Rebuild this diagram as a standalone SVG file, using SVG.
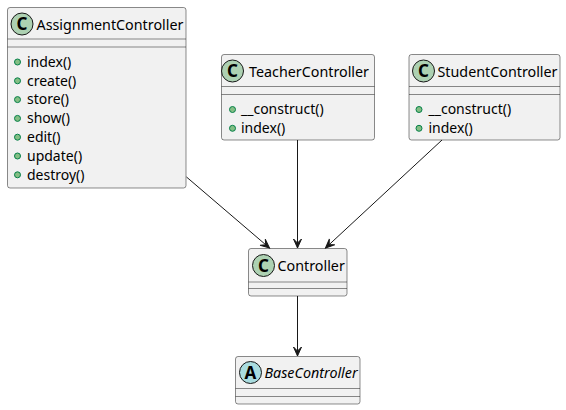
<svg xmlns="http://www.w3.org/2000/svg" width="566" height="410" viewBox="0 0 566 410">
<defs>
<style>
.box{fill:#F1F1F1;stroke:#181818;stroke-width:0.5}
.sep{stroke:#181818;stroke-width:0.5}
.t{font-family:"Noto Sans","DejaVu Sans",sans-serif;font-size:14px;fill:#000}
.tt{font-family:"Noto Sans","DejaVu Sans",sans-serif;font-size:14.3px;fill:#000}
.ti{font-family:"Noto Sans","DejaVu Sans",sans-serif;font-size:14.3px;font-style:italic;fill:#000}
.sc{fill:#ADD1B2;stroke:#181818;stroke-width:1}
.sa{fill:#A9DCDF;stroke:#181818;stroke-width:1}
.sl{font-family:"Noto Sans","DejaVu Sans",sans-serif;font-size:17px;font-weight:bold;fill:#000;text-anchor:middle}
.dot{fill:#84BE84;stroke:#038048;stroke-width:1}
.edge{stroke:#181818;stroke-width:1;fill:none;marker-end:url(#ah)}
</style>
<marker id="ah" markerUnits="userSpaceOnUse" markerWidth="12" markerHeight="10" refX="10" refY="5" orient="auto" viewBox="0 0 12 10">
<path d="M10,5 L1,1 L5,5 L1,9 Z" fill="#181818" stroke="#181818" stroke-width="1"/>
</marker>
</defs>
<g id="AssignmentController">
<rect class="box" x="7.5" y="7.5" width="178.5" height="180.5" rx="2.5"/>
<circle class="sc" cx="22" cy="24" r="11"/>
<text class="sl" x="22" y="30">C</text>
<text class="tt" x="36.5" y="29.5">AssignmentController</text>
<line class="sep" x1="7.5" y1="39" x2="186" y2="39"/>
<line class="sep" x1="7.5" y1="47" x2="186" y2="47"/>
<circle class="dot" cx="17.5" cy="62" r="3"/><text class="t" x="27" y="66.8">index()</text>
<circle class="dot" cx="17.5" cy="80.8" r="3"/><text class="t" x="27" y="85.6">create()</text>
<circle class="dot" cx="17.5" cy="99.6" r="3"/><text class="t" x="27" y="104.4">store()</text>
<circle class="dot" cx="17.5" cy="118.4" r="3"/><text class="t" x="27" y="123.2">show()</text>
<circle class="dot" cx="17.5" cy="137.2" r="3"/><text class="t" x="27" y="142">edit()</text>
<circle class="dot" cx="17.5" cy="156" r="3"/><text class="t" x="27" y="160.8">update()</text>
<circle class="dot" cx="17.5" cy="174.8" r="3"/><text class="t" x="27" y="179.6">destroy()</text>
</g>
<g id="TeacherController">
<rect class="box" x="221.5" y="54.5" width="153" height="85.5" rx="2.5"/>
<circle class="sc" cx="232.5" cy="71" r="11"/>
<text class="sl" x="232.5" y="77">C</text>
<text class="tt" x="249" y="76.5">TeacherController</text>
<line class="sep" x1="221.5" y1="86.5" x2="374.5" y2="86.5"/>
<line class="sep" x1="221.5" y1="94.5" x2="374.5" y2="94.5"/>
<circle class="dot" cx="232.5" cy="109.5" r="3"/><text class="t" x="241" y="114.3">__construct()</text>
<circle class="dot" cx="232.5" cy="128.3" r="3"/><text class="t" x="241" y="133.1">index()</text>
</g>
<g id="StudentController">
<rect class="box" x="409" y="54.5" width="151" height="85.5" rx="2.5"/>
<circle class="sc" cx="423.5" cy="71" r="11"/>
<text class="sl" x="423.5" y="77">C</text>
<text class="tt" x="437.5" y="76.5">StudentController</text>
<line class="sep" x1="409" y1="86.5" x2="560" y2="86.5"/>
<line class="sep" x1="409" y1="94.5" x2="560" y2="94.5"/>
<circle class="dot" cx="419" cy="109.5" r="3"/><text class="t" x="428.5" y="114.3">__construct()</text>
<circle class="dot" cx="419" cy="128.3" r="3"/><text class="t" x="428.5" y="133.1">index()</text>
</g>
<g id="Controller">
<rect class="box" x="248.5" y="248.5" width="98.5" height="47.5" rx="2.5"/>
<circle class="sc" cx="263.5" cy="265.5" r="11"/>
<text class="sl" x="263.5" y="271.5">C</text>
<text class="tt" x="277.5" y="271">Controller</text>
<line class="sep" x1="248.5" y1="282" x2="347" y2="282"/>
<line class="sep" x1="248.5" y1="288.5" x2="347" y2="288.5"/>
</g>
<g id="BaseController">
<rect class="box" x="235.5" y="356.5" width="124.5" height="47.5" rx="2.5"/>
<circle class="sa" cx="250.5" cy="372.5" r="11"/>
<text class="sl" x="250.5" y="378.5">A</text>
<text class="ti" x="264.5" y="378">BaseController</text>
<line class="sep" x1="235.5" y1="388.5" x2="360" y2="388.5"/>
<line class="sep" x1="235.5" y1="396.5" x2="360" y2="396.5"/>
</g>
<g id="connectors">
<path class="edge" d="M186.5,177 L269.5,248"/>
<path class="edge" d="M297.5,140 L297.5,248"/>
<path class="edge" d="M442,140 L325.5,248"/>
<path class="edge" d="M297.5,296 L297.5,356"/>
</g>
</svg>
